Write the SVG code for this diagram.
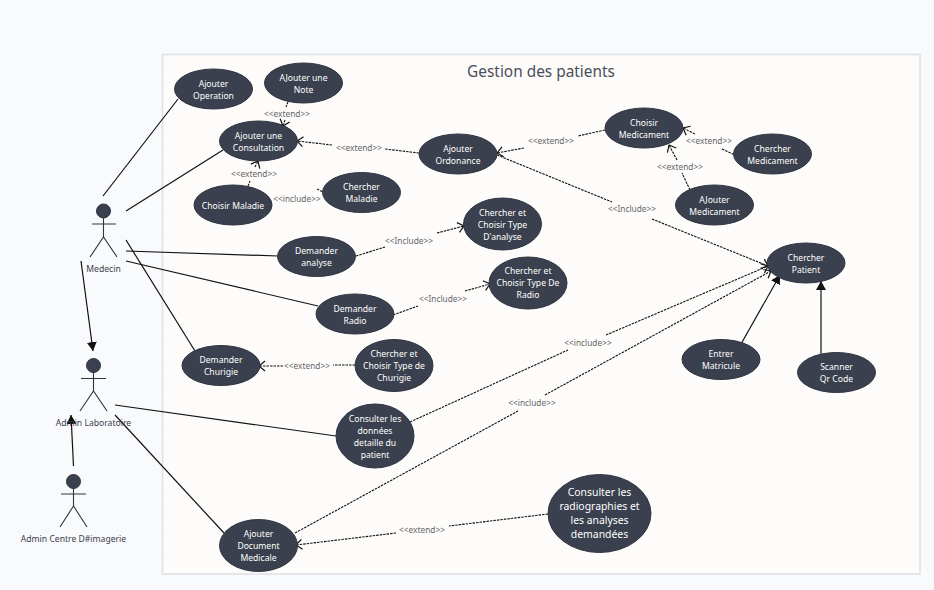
<svg xmlns="http://www.w3.org/2000/svg" width="934" height="590" viewBox="0 0 934 590">
<style>
text{font-family:"Noto Sans","Open Sans","DejaVu Sans",sans-serif;text-anchor:middle}
.u ellipse{fill:#3a404d;stroke:#2f3440;stroke-width:1}
.u text{fill:#fff;font-size:8.6px}
.a circle{fill:#3a404d;stroke:#2f3440}
.a path{fill:none;stroke:#2f3440;stroke-width:1.1}
.a text{fill:#3a404d;font-size:8.6px}
.s{fill:none;stroke:#111;stroke-width:1.2}
.d{fill:none;stroke:#111;stroke-width:1.1;stroke-dasharray:2.5 1}
.l{fill:#666;font-size:8.3px}
.u .big{font-size:10.4px}
</style>
<defs>
<pattern id="dots" width="12.8" height="12.8" patternUnits="userSpaceOnUse"><rect x="6" y="6" width="1.2" height="1.2" fill="#e6e8ee"/></pattern>
<marker id="open" markerWidth="10" markerHeight="12" refX="9" refY="6" orient="auto" markerUnits="userSpaceOnUse"><path d="M3 1L9 6L3 11" fill="none" stroke="#111" stroke-width="1.2"/></marker>
<marker id="fill" markerWidth="10" markerHeight="10" refX="9" refY="5" orient="auto" markerUnits="userSpaceOnUse"><path d="M0 0L9 5L0 10Z" fill="#111"/></marker>
</defs>
<rect width="934" height="590" fill="#f9fafc"/>
<rect width="934" height="590" fill="url(#dots)"/>
<g id="frame">
<rect x="162.5" y="54.5" width="757.5" height="519.5" fill="#fdfcfb" stroke="#dfe2e5" stroke-width="1.6"/>
<text x="541" y="77" font-size="15.4" fill="#4a4f59">Gestion des patients</text>
</g>
<g id="connectors">
<path class="s" d="M103 196L178 99"/>
<path class="s" d="M126 211L223 150"/>
<path class="s" d="M126 251L278 256"/>
<path class="s" d="M126 261L318 306"/>
<path class="s" d="M126 240L195 351"/>
<path class="s" d="M81 261L93 351" marker-end="url(#fill)"/>
<path class="s" d="M73.500 466L71 415" marker-end="url(#fill)"/>
<path class="s" d="M115 405L336 436"/>
<path class="s" d="M115 415L224 533"/>
<path class="s" d="M741 344L780 275" marker-end="url(#fill)"/>
<path class="s" d="M821 354L821 281" marker-end="url(#fill)"/>
<path class="d" d="M288 102L286 107"/><path class="d" d="M285 120L283 126" marker-end="url(#open)"/>
<path class="d" d="M419 153L385 149"/><path class="d" d="M332 145L297 141" marker-end="url(#open)"/>
<path class="d" d="M248 186L250 181"/><path class="d" d="M255 167L258 161" marker-end="url(#open)"/>
<path class="d" d="M317 189L323 192"/>
<path class="d" d="M605 130L578 136"/><path class="d" d="M524 148L497 153" marker-end="url(#open)"/>
<path class="d" d="M737 156L722 149"/><path class="d" d="M695 134L683 128" marker-end="url(#open)"/>
<path class="d" d="M690 190L682 173"/><path class="d" d="M677 160L669 145" marker-end="url(#open)"/>
<path class="d" d="M497 155L612 202"/><path class="d" d="M652 219L768 266" marker-end="url(#open)"/>
<path class="d" d="M356 256L385 247"/><path class="d" d="M437 233L464 226" marker-end="url(#open)"/>
<path class="d" d="M393 315L418 306"/><path class="d" d="M465 291L490 284" marker-end="url(#open)"/>
<path class="d" d="M355 365L333 365"/><path class="d" d="M283 366L259 366" marker-end="url(#open)"/>
<path class="d" d="M410 422L568 350"/><path class="d" d="M606 335L768 266" marker-end="url(#open)"/>
<path class="d" d="M295 533L518 411"/><path class="d" d="M545 395L771 271" marker-end="url(#open)"/>
<path class="d" d="M548 514L449 526"/><path class="d" d="M396 533L296 545" marker-end="url(#open)"/>
<g>
<text class="l" x="287" y="117">&lt;&lt;extend&gt;&gt;</text>
<text class="l" x="359" y="151">&lt;&lt;extend&gt;&gt;</text>
<text class="l" x="254" y="177">&lt;&lt;extend&gt;&gt;</text>
<text class="l" x="297" y="202">&lt;&lt;include&gt;&gt;</text>
<text class="l" x="551" y="144">&lt;&lt;extend&gt;&gt;</text>
<text class="l" x="709" y="144">&lt;&lt;extend&gt;&gt;</text>
<text class="l" x="680" y="170">&lt;&lt;extend&gt;&gt;</text>
<text class="l" x="632" y="212">&lt;&lt;Include&gt;&gt;</text>
<text class="l" x="409" y="244">&lt;&lt;Include&gt;&gt;</text>
<text class="l" x="443" y="302">&lt;&lt;Include&gt;&gt;</text>
<text class="l" x="307" y="369">&lt;&lt;extend&gt;&gt;</text>
<text class="l" x="588" y="346">&lt;&lt;include&gt;&gt;</text>
<text class="l" x="532" y="406">&lt;&lt;include&gt;&gt;</text>
<text class="l" x="422" y="533">&lt;&lt;extend&gt;&gt;</text>
</g>
</g>
<g id="medecin" class="a"><circle cx="103.500" cy="211" r="7"/><path d="M92 224H116M103.500 218V237M90 257L103.500 237L117 257"/><text x="103.500" y="272">Medecin</text></g>
<g id="admin-labo" class="a"><circle cx="93.500" cy="365.500" r="7"/><path d="M81 378.500H106M93.500 372V391M80 411L93.500 391L107 411"/><text x="93.500" y="426">Admin Laboratoire</text></g>
<g id="admin-centre" class="a"><circle cx="73.500" cy="481.500" r="7"/><path d="M61 494H86M73.500 488V506M60 527L73.500 506L87 527"/><text x="73.500" y="542">Admin Centre D#imagerie</text></g>
<g class="u">
<g id="u1"><ellipse cx="213.500" cy="89" rx="39" ry="20"/><text x="213.500" y="87">Ajouter</text><text x="213.500" y="99">Operation</text></g>
<g id="u2"><ellipse cx="303.500" cy="83" rx="39" ry="20"/><text x="303.500" y="81">AJouter une</text><text x="303.500" y="93">Note</text></g>
<g id="u3"><ellipse cx="258.500" cy="141" rx="39" ry="20"/><text x="258.500" y="139">Ajouter une</text><text x="258.500" y="151">Consultation</text></g>
<g id="u4"><ellipse cx="233" cy="205" rx="39" ry="20"/><text x="233" y="209">Choisir Maladie</text></g>
<g id="u5"><ellipse cx="361.500" cy="192.500" rx="39" ry="20"/><text x="361.500" y="190">Chercher</text><text x="361.500" y="202">Maladie</text></g>
<g id="u6"><ellipse cx="316.500" cy="256.500" rx="39" ry="20"/><text x="316.500" y="254">Demander</text><text x="316.500" y="266">analyse</text></g>
<g id="u7"><ellipse cx="458" cy="154" rx="39" ry="20"/><text x="458" y="152">Ajouter</text><text x="458" y="164">Ordonance</text></g>
<g id="u8"><ellipse cx="644" cy="128" rx="39" ry="20"/><text x="644" y="126">Choisir</text><text x="644" y="138">Medicament</text></g>
<g id="u9"><ellipse cx="772.500" cy="154" rx="39" ry="20"/><text x="772.500" y="152">Chercher</text><text x="772.500" y="164">Medicament</text></g>
<g id="u10"><ellipse cx="714.500" cy="205" rx="39" ry="20"/><text x="714.500" y="203">AJouter</text><text x="714.500" y="215">Medicament</text></g>
<g id="u11"><ellipse cx="806" cy="263" rx="39" ry="20"/><text x="806" y="261">Chercher</text><text x="806" y="273">Patient</text></g>
<g id="u12"><ellipse cx="502.500" cy="224" rx="39" ry="26"/><text x="502.500" y="216">Chercher et</text><text x="502.500" y="228">Choisir Type</text><text x="502.500" y="240">D'analyse</text></g>
<g id="u13"><ellipse cx="528" cy="283" rx="39" ry="26"/><text x="528" y="274">Chercher et</text><text x="528" y="286">Choisir Type De</text><text x="528" y="298">Radio</text></g>
<g id="u14"><ellipse cx="355" cy="314" rx="39" ry="20"/><text x="355" y="312">Demander</text><text x="355" y="324">Radio</text></g>
<g id="u15"><ellipse cx="221" cy="365.500" rx="39" ry="20"/><text x="221" y="363">Demander</text><text x="221" y="375">Churigie</text></g>
<g id="u16"><ellipse cx="394" cy="365.500" rx="39" ry="26"/><text x="394" y="357">Chercher et</text><text x="394" y="369">Choisir Type de</text><text x="394" y="381">Churigie</text></g>
<g id="u17"><ellipse cx="375" cy="436" rx="39" ry="32"/><text x="375" y="422">Consulter les</text><text x="375" y="434">données</text><text x="375" y="446">detaille du</text><text x="375" y="458">patient</text></g>
<g id="u18"><ellipse cx="258.500" cy="545.500" rx="39" ry="26"/><text x="258.500" y="537">Ajouter</text><text x="258.500" y="549">Document</text><text x="258.500" y="561">Medicale</text></g>
<g id="u19"><ellipse cx="599.500" cy="513.500" rx="51.500" ry="39"/><text class="big" x="599.500" y="496">Consulter les</text><text class="big" x="599.500" y="510">radiographies et</text><text class="big" x="599.500" y="524">les analyses</text><text class="big" x="599.500" y="538">demandées</text></g>
<g id="u20"><ellipse cx="721" cy="359.500" rx="39" ry="20"/><text x="721" y="357">Entrer</text><text x="721" y="369">Matricule</text></g>
<g id="u21"><ellipse cx="836.500" cy="372.500" rx="39" ry="20"/><text x="836.500" y="370">Scanner</text><text x="836.500" y="382">Qr Code</text></g>
</g>
</svg>
